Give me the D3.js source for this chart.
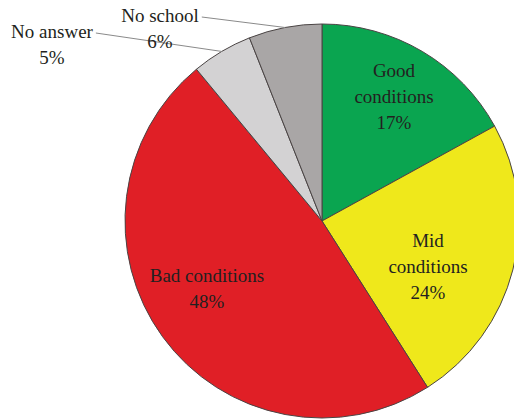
<!DOCTYPE html>
<html>
<head>
<meta charset="utf-8">
<script src="https://cdn.jsdelivr.net/npm/d3@7"></script>
<style>
  html, body { margin: 0; padding: 0; background: #fff; }
  svg { display: block; }
</style>
</head>
<body>
<svg id="chart" width="514" height="420"></svg>
<script>
const categories = ["Good conditions", "Mid conditions", "Bad conditions", "No answer", "No school"];
const values = [17, 24, 48, 5, 6];
const labelLines = [["Good", "conditions", "17%"], ["Mid", "conditions", "24%"], ["Bad conditions", "48%"], ["No answer", "5%"], ["No school", "6%"]];
const colors = ["#0aa550", "#efe81b", "#e01f26", "#d3d2d3", "#a9a6a6"];

const svg = d3.select("#chart");
const cx = 322, cy = 221, r = 197;
const g = svg.append("g").attr("transform", `translate(${cx},${cy})`);

const pie = d3.pie().sort(null).value(d => d.v);
const data = pie(categories.map((c, i) => ({ c, v: values[i], i })));
const arc = d3.arc().innerRadius(0).outerRadius(r);

g.selectAll("path.slice").data(data).enter().append("path")
  .attr("class", "slice")
  .attr("d", arc)
  .attr("fill", d => colors[d.data.i])
  .attr("stroke", "#4a4444")
  .attr("stroke-width", 1);

// inside label positions (relative to center), outside label positions
const inside = { 0: [72, -144], 1: [106, 26], 2: [-115, 61] };
const outside = { 3: [-270, -183], 4: [-162, -199] };
const lh = 26;

data.forEach(d => {
  const i = d.data.i;
  const lines = labelLines[i];
  if (inside[i]) {
    const [x, y] = inside[i];
    const t = g.append("text").attr("text-anchor", "middle")
      .attr("font-family", "'Liberation Serif', 'DejaVu Serif', serif")
      .attr("font-size", 19).attr("fill", "#231f20");
    lines.forEach((l, k) => t.append("tspan").attr("x", x).attr("y", y + k * lh).text(l));
  } else {
    const [x, y] = outside[i];
    const mid = (d.startAngle + d.endAngle) / 2;
    const ex = r * Math.sin(mid), ey = -r * Math.cos(mid);
    const t = g.append("text").attr("text-anchor", "middle")
      .attr("font-family", "'Liberation Serif', 'DejaVu Serif', serif")
      .attr("font-size", 19).attr("fill", "#231f20");
    lines.forEach((l, k) => t.append("tspan").attr("x", x).attr("y", y + k * lh).text(l));
    const w = t.node().getComputedTextLength ? t.select("tspan").node().getComputedTextLength() : 80;
    g.append("line")
      .attr("x1", x + w / 2 + 3).attr("y1", y - 5)
      .attr("x2", ex).attr("y2", ey)
      .attr("stroke", "#8a8a8a").attr("stroke-width", 1);
  }
});
</script>
</body>
</html>
